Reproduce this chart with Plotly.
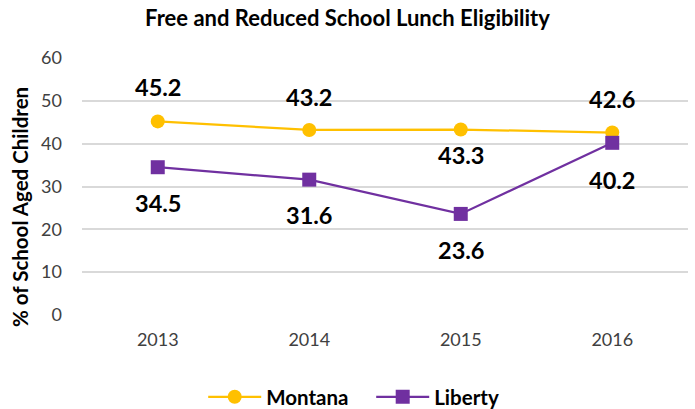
import plotly.graph_objects as go

years = ["2013", "2014", "2015", "2016"]
montana = [45.2, 43.2, 43.3, 42.6]
liberty = [34.5, 31.6, 23.6, 40.2]
montana_shift = [34, 33, -25, 34]
liberty_shift = [-36, -35, -36, -37]

FONT = "Lato, 'Open Sans', sans-serif"

fig = go.Figure()
fig.add_trace(go.Scatter(x=years, y=montana, name="<b>Montana</b>", mode="lines+markers",
                         line=dict(color="#FFC000", width=2.25),
                         marker=dict(symbol="circle", size=14, color="#FFC000")))
fig.add_trace(go.Scatter(x=years, y=liberty, name="<b>Liberty</b>", mode="lines+markers",
                         line=dict(color="#7030A0", width=2.25),
                         marker=dict(symbol="square", size=14, color="#7030A0")))

for ys, sh in ((montana, montana_shift), (liberty, liberty_shift)):
    for i, (y, s) in enumerate(zip(ys, sh)):
        fig.add_annotation(x=i, y=y, xref="x", yref="y", text=f"<b>{y:.1f}</b>", showarrow=False,
                           yshift=s, font=dict(size=23.5, color="black", family=FONT))

fig.add_annotation(text="<b>% of School Aged Children</b>", xref="paper", yref="paper",
                   x=-0.1023, y=0.42, xanchor="center", yanchor="middle", textangle=-90,
                   showarrow=False, font=dict(size=20.5, color="black", family=FONT))

fig.update_layout(
    width=695, height=409,
    margin=dict(l=82, r=7, t=58, b=94, autoexpand=False),
    paper_bgcolor="white", plot_bgcolor="white",
    title=dict(text="<b>Free and Reduced School Lunch Eligibility</b>", x=0.5, xanchor="center",
               y=0.955, yanchor="middle", font=dict(size=22, color="black", family=FONT)),
    font=dict(family=FONT, color="#404040"),
    xaxis=dict(type="category", range=[-0.5, 3.5], showgrid=False, showline=False, ticks="",
               automargin=False, ticklabelstandoff=12, tickfont=dict(size=18, color="#404040")),
    yaxis=dict(range=[0, 60], dtick=10, showgrid=True, gridcolor="#D9D9D9", gridwidth=1.5,
               zeroline=False, showline=False, ticks="", ticklabelstandoff=19, automargin=False,
               tickfont=dict(size=18, color="#404040")),
    legend=dict(orientation="h", x=0.2, xanchor="left", y=-0.319, yanchor="middle",
                itemwidth=53, entrywidth=100, entrywidthmode="pixels",
                font=dict(size=20.5, color="black", family=FONT)),
    showlegend=True,
)

fig.write_html("out.html", config={"displayModeBar": False},
               post_script="document.body.style.margin='0';document.body.style.padding='0';")
